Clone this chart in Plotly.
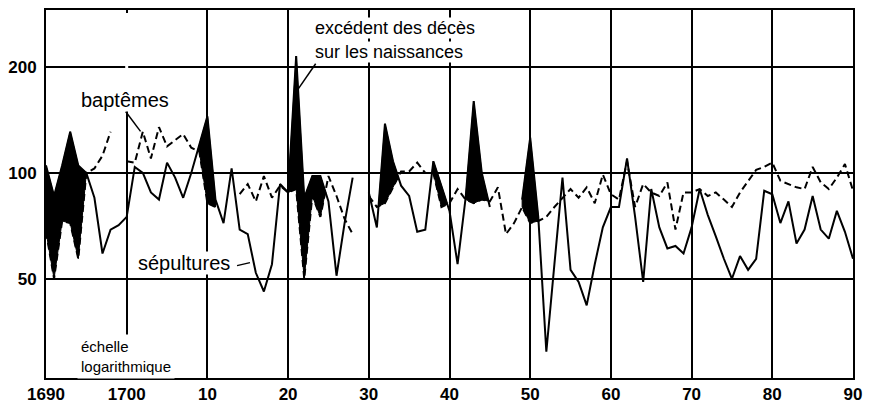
import math
import plotly.graph_objects as go

years = list(range(1690, 1791))

sepultures = [
    105, 86, 105, 131, 105, 100, 85, 59, 69, 71,        # 1690-1699
    75, 104, 100, 88, 84, 107, 97, 85, 100, 120,        # 1700-1709
    145, 84, 72, 103, 69, 67, 52, 46, 55, 93,           # 1710-1719
    88, 215, 85, 98, 98, 83, 51, 72, 97, None,          # 1720-1729
    88, 70, 138, 108, 92, 86, 68, 69, 108, 92,          # 1730-1739
    78, 55, 85, 160, 100, 80, None, None, None, 84,     # 1740-1749
    126, 75, 31, 55, 97, 53, 49, 42, 55, 70,            # 1750-1759
    80, 80, 110, 75, 49, 90, 70, 61, 62, 59,            # 1760-1769
    70, 90, 76, 66, 57, 50, 58, 53, 57, 89,             # 1770-1779
    87, 72, 83, 63, 69, 86, 69, 65, 78, 68,             # 1780-1789
    57,                                                 # 1790
]

baptemes = [
    68, 50, 73, 72, 57, 100, 103, 112, 131, None,       # 1690-1699
    108, 107, 131, 110, 135, 119, 124, 129, 118, 115,   # 1700-1709
    82, 80, None, None, 87, 93, 83, 98, 85, 92,         # 1710-1719
    88, 90, 50, 86, 75, 98, 86, 74, 67, None,           # 1720-1729
    86, 80, 82, 91, 101, 101, 107, 100, 100, 80,        # 1730-1739
    82, 90, 84, 82, 84, 83, 91, 67, 72, 80,             # 1740-1749
    72, 73, 75, 80, 85, 90, 85, 91, 82, 99,             # 1750-1759
    87, 84, 108, 80, 93, 88, 86, 94, 69, 88,            # 1760-1769
    88, 90, 86, 88, 84, 80, 88, 95, 102, 104,           # 1770-1779
    107, 95, 93, 91, 90, 104, 94, 90, 97, 106,          # 1780-1789
    89,                                                 # 1790
]

# periods where the excess of deaths over births is shaded
excess_periods = [(1690, 1695), (1708, 1712), (1719, 1725), (1730, 1734),
                  (1737, 1741), (1741, 1745), (1748, 1752)]

decades = list(range(1690, 1791, 10))
decade_labels = ["1690", "1700", "10", "20", "30", "40", "50", "60", "70", "80", "90"]
y_ticks = [50, 100, 200]
y_labels = ["50", "100", "200"]

lg = math.log10
val = dict(zip(years, zip(sepultures, baptemes)))


def excess_polygons():
    xs, ys = [], []

    def flush(top, bot):
        if len(top) >= 2:
            poly = top + bot[::-1]
            xs.extend([p[0] for p in poly] + [poly[0][0], None])
            ys.extend([p[1] for p in poly] + [poly[0][1], None])

    for a, b in excess_periods:
        top, bot = [], []
        for yr in range(a, b):
            s0, b0 = val[yr]
            s1, b1 = val[yr + 1]
            if None in (s0, b0, s1, b1):
                flush(top, bot)
                top, bot = [], []
                continue
            d0 = lg(s0) - lg(b0)
            d1 = lg(s1) - lg(b1)
            if d0 >= 0 and not top:
                top, bot = [(yr, s0)], [(yr, b0)]
            if d0 < 0 and d1 > 0:
                t = d0 / (d0 - d1)
                yc = 10 ** (lg(s0) + t * (lg(s1) - lg(s0)))
                top, bot = [(yr + t, yc)], [(yr + t, yc)]
            if d1 >= 0:
                top.append((yr + 1, s1))
                bot.append((yr + 1, b1))
            elif d0 >= 0:
                t = d0 / (d0 - d1)
                yc = 10 ** (lg(s0) + t * (lg(s1) - lg(s0)))
                top.append((yr + t, yc))
                bot.append((yr + t, yc))
                flush(top, bot)
                top, bot = [], []
        flush(top, bot)
    return xs, ys


fx, fy = excess_polygons()

fig = go.Figure()
fig.add_trace(go.Scatter(x=fx, y=fy, mode="lines", fill="toself",
                         fillcolor="black", line=dict(color="black", width=1),
                         hoverinfo="skip", showlegend=False))
fig.add_trace(go.Scatter(x=years, y=baptemes, mode="lines", name="baptêmes",
                         line=dict(color="black", width=2, dash="7px,4px"),
                         connectgaps=False, showlegend=False))
fig.add_trace(go.Scatter(x=years, y=sepultures, mode="lines", name="sépultures",
                         line=dict(color="black", width=2),
                         connectgaps=False, showlegend=False))

# page body has an 8px margin: figure sized so the page fills the window exactly
W, H = 861, 403
L, R, T, B = 34, 16, 0, 33
OFF = 8                      # window offset of the figure
PL, PT = L + OFF, T + OFF    # plot-area origin in window pixels
pw, ph = W - L - R, H - T - B


def px(x):
    return (x - PL) / pw


def py(y):
    return 1 - (y - PT) / ph


font = "Liberation Sans, Arial, sans-serif"

fig.update_layout(
    width=W, height=H,
    margin=dict(l=L, r=R, t=T, b=B, pad=0),
    paper_bgcolor="white", plot_bgcolor="white",
    font=dict(family=font, color="black"),
    xaxis=dict(range=[1690, 1790], tickvals=decades, ticktext=decade_labels,
               showgrid=True, gridcolor="black", gridwidth=1.5,
               showline=True, mirror=True, linecolor="black", linewidth=2,
               ticks="", zeroline=False,
               tickfont=dict(size=17, color="black", weight="bold")),
    yaxis=dict(type="log", range=[lg(26.1), lg(290.8)], tickvals=y_ticks, ticktext=y_labels,
               showgrid=True, gridcolor="black", gridwidth=1.5,
               showline=True, mirror=True, linecolor="black", linewidth=2,
               ticks="", zeroline=False, ticklabelstandoff=4,
               tickfont=dict(size=17, color="black", weight="bold")),
    annotations=[
        dict(text="baptêmes", xref="paper", yref="paper", x=px(121), y=py(98),
             xanchor="center", yanchor="middle", showarrow=False,
             font=dict(size=20), bgcolor="white", borderpad=0),
        dict(text="sépultures", xref="paper", yref="paper", x=px(181), y=py(262),
             xanchor="center", yanchor="middle", showarrow=False,
             font=dict(size=20), bgcolor="white", borderpad=0),
        dict(text="excédent des décès", xref="paper", yref="paper",
             x=px(311), y=py(26), xanchor="left", yanchor="middle", align="left",
             showarrow=False, font=dict(size=18), bgcolor="white", borderpad=0),
        dict(text="sur les naissances", xref="paper", yref="paper",
             x=px(311), y=py(50), xanchor="left", yanchor="middle", align="left",
             showarrow=False, font=dict(size=18), bgcolor="white", borderpad=0),
        dict(text="échelle<br>logarithmique", xref="paper", yref="paper",
             x=px(73), y=py(356), xanchor="left", yanchor="middle", align="left",
             showarrow=False, font=dict(size=15), bgcolor="white", borderpad=3),
    ],
    shapes=[
        dict(type="line", xref="x", yref="paper", x0=1700, x1=1700, y0=py(11), y1=py(108),
             line=dict(color="white", width=3)),
        dict(type="line", xref="paper", yref="paper", x0=px(122), y0=py(110), x1=px(137), y1=py(130),
             line=dict(color="black", width=1.5)),
        dict(type="line", xref="paper", yref="paper", x0=px(234), y0=py(265), x1=px(247), y1=py(262),
             line=dict(color="black", width=1.5)),
        dict(type="line", xref="paper", yref="paper", x0=px(313), y0=py(62), x1=px(295), y1=py(88),
             line=dict(color="black", width=1.5)),
    ],
)

fig.write_html("out.html")
